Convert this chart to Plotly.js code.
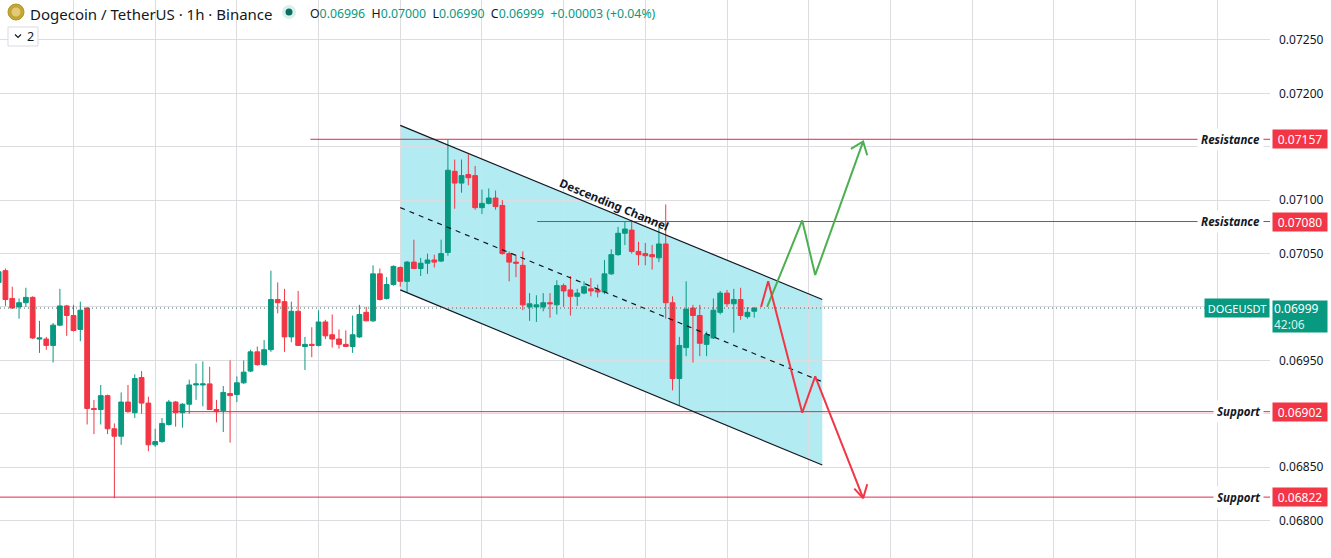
<!DOCTYPE html>
<html><head><meta charset="utf-8">
<script src="https://cdn.plot.ly/plotly-3.0.1.min.js"></script>
<style>html,body{margin:0;padding:0;background:#fff;}#chart{width:1331px;height:558px;}</style>
</head><body><div id="chart"></div>
<script>
// ---- candle data (1h, Dogecoin / TetherUS) ----
const hours = Array.from({length:112},(_,k)=>k-1);
const opens = [0.07023,0.07034,0.07008,0.07000,0.07004,0.07009,0.06970,0.06970,0.06964,0.06983,0.07001,0.06992,0.06979,0.06999,0.06905,0.06904,0.06917,0.06886,0.06879,0.06911,0.06901,0.06934,0.06910,0.06871,0.06874,0.06890,0.06911,0.06901,0.06909,0.06927,0.06927,0.06928,0.06904,0.06903,0.06919,0.06918,0.06929,0.06940,0.06958,0.06946,0.06960,0.07007,0.07005,0.06972,0.06996,0.06963,0.06965,0.06964,0.06986,0.06974,0.06970,0.06965,0.06963,0.06972,0.06995,0.06987,0.07031,0.07008,0.07021,0.07037,0.07024,0.07042,0.07036,0.07041,0.07044,0.07043,0.07051,0.07127,0.07116,0.07124,0.07123,0.07093,0.07097,0.07102,0.07095,0.07050,0.07042,0.07039,0.07000,0.07000,0.07000,0.07004,0.07002,0.07020,0.07016,0.07010,0.07013,0.07017,0.07016,0.07014,0.07031,0.07049,0.07069,0.07072,0.07052,0.07050,0.07049,0.07046,0.07059,0.07004,0.06933,0.06962,0.06999,0.06992,0.06965,0.06971,0.06995,0.07013,0.07003,0.07007,0.06991,0.06996];
const highs = [0.07036,0.07036,0.07019,0.07008,0.07018,0.07010,0.06987,0.06972,0.06985,0.07017,0.07002,0.07002,0.07005,0.07000,0.06913,0.06927,0.06918,0.06891,0.06920,0.06927,0.06937,0.06940,0.06916,0.06886,0.06896,0.06913,0.06912,0.06910,0.06932,0.06947,0.06949,0.06944,0.06913,0.06926,0.06950,0.06935,0.06950,0.06960,0.06963,0.06969,0.07034,0.07023,0.07017,0.07005,0.07015,0.06972,0.06981,0.06997,0.06988,0.06993,0.06979,0.06978,0.06992,0.07002,0.07000,0.07039,0.07036,0.07028,0.07039,0.07038,0.07043,0.07063,0.07046,0.07050,0.07049,0.07063,0.07157,0.07138,0.07138,0.07143,0.07132,0.07110,0.07111,0.07109,0.07100,0.07052,0.07049,0.07052,0.07013,0.07011,0.07013,0.07013,0.07025,0.07022,0.07029,0.07017,0.07024,0.07027,0.07021,0.07044,0.07054,0.07075,0.07080,0.07081,0.07061,0.07060,0.07058,0.07075,0.07096,0.07010,0.06972,0.07024,0.07002,0.07002,0.06977,0.07008,0.07015,0.07016,0.07017,0.07018,0.07000,0.07000];
const lows = [0.07021,0.07001,0.06999,0.06989,0.07000,0.06970,0.06957,0.06960,0.06948,0.06982,0.06973,0.06977,0.06968,0.06890,0.06881,0.06890,0.06881,0.06821,0.06871,0.06901,0.06896,0.06900,0.06865,0.06869,0.06873,0.06889,0.06888,0.06887,0.06900,0.06913,0.06907,0.06904,0.06892,0.06883,0.06873,0.06911,0.06928,0.06939,0.06945,0.06945,0.06958,0.06994,0.06958,0.06967,0.06964,0.06941,0.06953,0.06963,0.06970,0.06962,0.06961,0.06963,0.06957,0.06971,0.06987,0.06986,0.07006,0.07007,0.07020,0.07019,0.07014,0.07036,0.07029,0.07031,0.07037,0.07042,0.07048,0.07092,0.07107,0.07114,0.07091,0.07087,0.07096,0.07091,0.07049,0.07024,0.07028,0.06997,0.06987,0.06986,0.06996,0.06990,0.06993,0.07000,0.06992,0.07001,0.07012,0.07010,0.07009,0.07012,0.07030,0.07048,0.07058,0.07050,0.07039,0.07039,0.07035,0.07042,0.06989,0.06922,0.06908,0.06954,0.06948,0.06954,0.06954,0.06970,0.06993,0.07000,0.06976,0.06988,0.06989,0.06990];
const closes = [0.07033,0.07007,0.06999,0.07004,0.07009,0.06971,0.06971,0.06964,0.06983,0.07001,0.06992,0.06978,0.06997,0.06905,0.06904,0.06917,0.06886,0.06879,0.06911,0.06902,0.06933,0.06910,0.06871,0.06874,0.06891,0.06911,0.06901,0.06909,0.06927,0.06928,0.06928,0.06904,0.06902,0.06920,0.06917,0.06929,0.06939,0.06958,0.06946,0.06960,0.07007,0.07004,0.06972,0.06996,0.06964,0.06965,0.06964,0.06986,0.06973,0.06970,0.06965,0.06963,0.06974,0.06993,0.06987,0.07031,0.07007,0.07021,0.07038,0.07024,0.07042,0.07036,0.07041,0.07044,0.07042,0.07050,0.07128,0.07116,0.07123,0.07121,0.07093,0.07097,0.07102,0.07094,0.07050,0.07042,0.07041,0.07002,0.07003,0.07002,0.07004,0.07003,0.07020,0.07015,0.07010,0.07013,0.07019,0.07015,0.07014,0.07031,0.07049,0.07069,0.07073,0.07052,0.07049,0.07048,0.07047,0.07059,0.07004,0.06933,0.06964,0.06998,0.06992,0.06966,0.06974,0.06997,0.07013,0.07003,0.07007,0.06992,0.06995,0.06999];

// ---- price scale ----
const priceTicks = [0.06800,0.06850,0.06900,0.06950,0.07000,0.07050,0.07100,0.07150,0.07200,0.07250];
const hiddenTicks = [0.06900,0.07000,0.07150]; // covered by the level / last-price labels
const timeGrid = [10,22,34,46,58,70,82,94,106,118,130,142,154,166,178];

// ---- drawings ----
const levelPrices = [0.07157,0.07080,0.06902,0.06822];
const levelStarts = [44.8,78.1,24.5,-2];
const levelNames = ['Resistance','Resistance','Support','Support'];
const channelX = [58,120];
const channelTop = [0.07170,0.07007];
const channelMid = [0.07093,0.06930];
const channelBot = [0.07016,0.06852];
const bullX = [111.9,117.05,118.96,126.0];
const bullY = [0.07000,0.07081,0.07030,0.07155];
const bullHeadX = [124.2,126.0,126.6];
const bullHeadY = [0.07148,0.07155,0.07142];
const bearX = [111.0,112.05,117.05,118.96,126.0];
const bearY = [0.07000,0.07024,0.06901,0.06935,0.06821];
const bearHeadX = [124.7,126.0,126.6];
const bearHeadY = [0.06830,0.06821,0.06834];
const lastPrice = 0.06999;

const GREEN='#089981', RED='#f23645', LVL='rgb(226,40,80)', FONT='"Noto Sans", "Open Sans", sans-serif';
const XR=[-0.8,185.77];

const traces = [];
traces.push({type:'candlestick',x:hours,open:opens,high:highs,low:lows,close:closes,
  increasing:{line:{color:GREEN,width:1},fillcolor:GREEN},
  decreasing:{line:{color:RED,width:1},fillcolor:RED},whiskerwidth:0,hoverinfo:'skip'});
levelPrices.forEach((p,k)=>{
  traces.push({type:'scatter',mode:'lines',x:[levelStarts[k],XR[1]+5],y:[p,p],line:{color:LVL,width:1},hoverinfo:'skip'});
});
traces.push({type:'scatter',mode:'lines',x:channelX,y:channelTop,line:{color:'#131722',width:1.2},hoverinfo:'skip'});
traces.push({type:'scatter',mode:'lines',x:channelX,y:channelBot,line:{color:'#131722',width:1.2},hoverinfo:'skip'});
traces.push({type:'scatter',mode:'lines',x:channelX,y:channelMid,line:{color:'#131722',width:1.2,dash:'5px,5px'},hoverinfo:'skip'});
traces.push({type:'scatter',mode:'lines',x:XR,y:[lastPrice,lastPrice],line:{color:'#3d6b63',width:1,dash:'1px,3px'},hoverinfo:'skip'});
traces.push({type:'scatter',mode:'lines',x:bullX,y:bullY,line:{color:'#4caf50',width:2},hoverinfo:'skip'});
traces.push({type:'scatter',mode:'lines',x:bullHeadX,y:bullHeadY,line:{color:'#4caf50',width:2},hoverinfo:'skip'});
traces.push({type:'scatter',mode:'lines',x:bearX,y:bearY,line:{color:'#f23645',width:2},hoverinfo:'skip'});
traces.push({type:'scatter',mode:'lines',x:bearHeadX,y:bearHeadY,line:{color:'#f23645',width:2},hoverinfo:'skip'});

const W=1270, H=558;
const px=v=>v/W, py=v=>1-v/H;

const ann = [];
ann.push({xref:'paper',yref:'paper',x:px(28),y:py(1.5),xanchor:'left',yanchor:'top',showarrow:false,
  text:'Dogecoin / TetherUS · 1h · Binance',font:{family:FONT,size:15,color:'#131722'}});
const g=s=>'<span style="color:'+GREEN+'">'+s+'</span>';
ann.push({xref:'paper',yref:'paper',x:px(308),y:py(3),xanchor:'left',yanchor:'top',showarrow:false,
  text:'O'+g('0.06996')+'  H'+g('0.07000')+'  L'+g('0.06990')+'  C'+g('0.06999')+'  '+g('+0.00003 (+0.04%)'),
  font:{family:FONT,size:12.3,color:'#131722'}});
ann.push({xref:'paper',yref:'paper',x:px(30),y:py(36.5),xanchor:'center',yanchor:'middle',showarrow:false,
  text:'2',font:{family:FONT,size:12.5,color:'#131722'}});
ann.push({xref:'x',yref:'y',x:89.44,y:0.070964,showarrow:false,textangle:22.5,
  text:'<b>Descending Channel</b>',font:{family:FONT,size:11.5,color:'#131722'}});
levelPrices.forEach((p,k)=>{
  ann.push({xref:'paper',yref:'y',x:px(1264),y:p,xanchor:'right',yanchor:'middle',showarrow:false,
    text:'<i><b>'+levelNames[k]+'</b></i>',font:{family:FONT,size:11.5,color:'#131722'},bgcolor:'#ffffff',borderpad:3});
  ann.push({xref:'paper',yref:'y',x:1,xshift:2,y:p,xanchor:'left',yanchor:'middle',showarrow:false,
    text:p.toFixed(5),font:{family:FONT,size:12,color:'#ffffff'},bgcolor:RED,width:52,height:16,borderpad:1});
});
ann.push({xref:'paper',yref:'y',x:1,xshift:0,y:lastPrice,xanchor:'right',yanchor:'middle',showarrow:false,
  text:'DOGEUSDT',font:{family:FONT,size:11,color:'#ffffff'},bgcolor:GREEN,width:62,height:16,borderpad:1});
ann.push({xref:'paper',yref:'y',x:1,xshift:2,y:lastPrice,yshift:8,xanchor:'left',yanchor:'top',showarrow:false,
  text:'0.06999<br><span style="color:#d5f2ea">42:06</span>',align:'left',font:{family:FONT,size:12,color:'#ffffff'},bgcolor:GREEN,width:52,height:29,borderpad:1});

const shapes = [];
// channel fill, beneath the candles
shapes.push({type:'path',xref:'x',yref:'y',layer:'below',
  path:'M '+channelX[0]+','+channelTop[0]+' L '+channelX[1]+','+channelTop[1]+' L '+channelX[1]+','+channelBot[1]+' L '+channelX[0]+','+channelBot[0]+' Z',
  fillcolor:'rgba(0,188,212,0.3)',line:{width:0}});
shapes.push(
  {type:'circle',xref:'paper',yref:'paper',x0:px(8),x1:px(24),y0:py(20),y1:py(4),fillcolor:'#c2a633',line:{color:'#b3962a',width:1}},
  {type:'circle',xref:'paper',yref:'paper',x0:px(11.5),x1:px(20.5),y0:py(16.5),y1:py(7.5),fillcolor:'#e3c97a',line:{width:0}},
  {type:'circle',xref:'paper',yref:'paper',x0:px(282),x1:px(296),y0:py(19),y1:py(5),fillcolor:'#d9f1ea',line:{width:0}},
  {type:'circle',xref:'paper',yref:'paper',x0:px(285.5),x1:px(292.5),y0:py(15.5),y1:py(8.5),fillcolor:'#0b6e5f',line:{width:0}},
  {type:'rect',xref:'paper',yref:'paper',x0:px(8),x1:px(38),y0:py(46),y1:py(27),fillcolor:'rgba(255,255,255,0.9)',line:{color:'#d8dbe3',width:1}},
  {type:'path',xref:'paper',yref:'paper',path:'M '+px(15)+' '+py(34.5)+' L '+px(18)+' '+py(37.5)+' L '+px(21)+' '+py(34.5),line:{color:'#131722',width:1.2}}
);

const layout = {
  width:1331,height:558,margin:{l:0,r:61,t:0,b:0},
  paper_bgcolor:'#ffffff',plot_bgcolor:'rgba(0,0,0,0)',showlegend:false,
  boxgap:0.3,boxgroupgap:0,
  xaxis:{range:XR,type:'linear',tickmode:'array',tickvals:timeGrid,showticklabels:false,
    showgrid:true,gridcolor:'#dcdde0',zeroline:false,showline:false,rangeslider:{visible:false},fixedrange:true},
  yaxis:{range:[0.06765,0.072874],side:'right',tickmode:'array',tickvals:priceTicks,
    ticktext:priceTicks.map(v=>hiddenTicks.includes(v)?'':v.toFixed(5)),showgrid:true,gridcolor:'#dcdde0',zeroline:false,showline:false,
    ticks:'',ticklabelstandoff:8,tickfont:{family:FONT,size:12,color:'#131722'},fixedrange:true},
  annotations:ann,shapes:shapes,hovermode:false
};
Plotly.newPlot('chart',traces,layout,{staticPlot:true,displayModeBar:false});
</script></body></html>
